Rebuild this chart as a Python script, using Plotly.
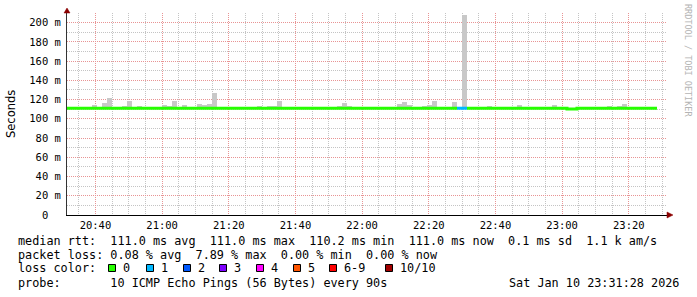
import plotly.graph_objects as go
import pandas as pd

# ---------------- data ----------------
START = "2026-01-10 20:31:28"
END = "2026-01-10 23:31:28"
STEP_S = 90

# median RTT per 90 s step (ms)
MEDIAN_MS = [
    111.0, 111.0, 111.0, 111.0, 111.0, 111.0, 111.0, 111.0, 111.0, 111.0,
    111.0, 111.0, 111.0, 111.0, 111.0, 111.0, 111.0, 111.0, 111.0, 111.0,
    111.0, 111.0, 111.0, 111.0, 111.0, 111.0, 111.0, 111.0, 111.0, 111.0,
    111.0, 111.0, 111.0, 111.0, 111.0, 111.0, 111.0, 111.0, 111.0, 111.0,
    111.0, 111.0, 111.0, 111.0, 111.0, 111.0, 111.0, 111.0, 111.0, 111.0,
    111.0, 111.0, 111.0, 111.0, 111.0, 111.0, 111.0, 111.0, 111.0, 111.0,
    111.0, 111.0, 111.0, 111.0, 111.0, 111.0, 111.0, 111.0, 111.0, 111.0,
    111.0, 111.0, 111.0, 111.0, 111.0, 111.0, 111.0, 111.0, 111.0, 111.0,
    111.0, 111.0, 111.0, 111.0, 111.0, 111.0, 111.0, 111.0, 111.0, 111.0,
    111.0, 111.0, 111.0, 111.0, 111.0, 111.0, 111.0, 111.0, 111.0, 111.0,
    110.2, 110.2, 111.0, 111.0, 111.0, 111.0, 111.0, 111.0, 111.0, 111.0,
    111.0, 111.0, 111.0, 111.0, 111.0, 111.0, 111.0, 111.0,
]

# top of the smoke (slowest ping) per step (ms)
MAX_MS = [
    111.0, 111.0, 111.0, 111.0, 111.0, 114.5, 111.0, 116.5, 122.0, 111.0,
    111.0, 113.5, 118.5, 111.0, 113.5, 111.0, 111.0, 111.0, 111.0, 114.5,
    113.5, 118.5, 111.0, 114.5, 111.0, 111.0, 115.5, 114.5, 115.5, 127.0,
    111.0, 111.0, 111.0, 111.0, 111.0, 111.0, 111.0, 111.0, 113.5, 111.0,
    113.5, 113.5, 118.5, 111.0, 111.0, 111.0, 111.0, 111.0, 111.0, 111.0,
    111.0, 111.0, 111.0, 111.0, 113.5, 116.5, 113.5, 111.0, 111.0, 111.0,
    111.0, 111.0, 111.0, 111.0, 111.0, 111.0, 115.5, 117.5, 114.5, 111.0,
    111.0, 113.5, 114.5, 118.5, 111.0, 111.0, 111.0, 117.5, 111.0, 208.0,
    111.0, 111.0, 111.0, 111.0, 113.5, 111.0, 111.0, 111.0, 111.0, 111.0,
    114.5, 111.0, 111.0, 111.0, 112.5, 112.5, 111.0, 114.5, 111.0, 111.0,
    110.2, 110.2, 111.0, 111.0, 111.0, 111.0, 111.0, 111.0, 113.5, 111.0,
    113.5, 115.5, 111.0, 111.0, 111.0, 111.0, 111.0, 111.0,
]

# lost pings (out of 10) per step
LOSS = [
    0, 0, 0, 0, 0, 0, 0, 0, 0, 0,
    0, 0, 0, 0, 0, 0, 0, 0, 0, 0,
    0, 0, 0, 0, 0, 0, 0, 0, 0, 0,
    0, 0, 0, 0, 0, 0, 0, 0, 0, 0,
    0, 0, 0, 0, 0, 0, 0, 0, 0, 0,
    0, 0, 0, 0, 0, 0, 0, 0, 0, 0,
    0, 0, 0, 0, 0, 0, 0, 0, 0, 0,
    0, 0, 0, 0, 0, 0, 0, 0, 1, 1,
    0, 0, 0, 0, 0, 0, 0, 0, 0, 0,
    0, 0, 0, 0, 0, 0, 0, 0, 0, 0,
    0, 0, 0, 0, 0, 0, 0, 0, 0, 0,
    0, 0, 0, 0, 0, 0, 0, 0,
]

LOSS_LABELS = ["0", "1", "2", "3", "4", "5", "6-9", "10/10"]
LOSS_COLORS = ["#26ff00", "#00b8ff", "#0059ff", "#7e00ff",
               "#ff00ff", "#ff5500", "#ff0000", "#a10000"]

Y_TICKVALS = [0, 20, 40, 60, 80, 100, 120, 140, 160, 180, 200]
Y_TICKTEXT = ["0\u00a0\u00a0", "20 m", "40 m", "60 m", "80 m", "100 m",
              "120 m", "140 m", "160 m", "180 m", "200 m"]

STAT_LINES = [
    "median rtt:  111.0 ms avg  111.0 ms max  110.2 ms min  111.0 ms now  0.1 ms sd  1.1 k am/s",
    "packet loss: 0.08 % avg  7.89 % max  0.00 % min  0.00 % now",
    "loss color:",
    "probe:       10 ICMP Echo Pings (56 Bytes) every 90s",
]
DATE_TEXT = "Sat Jan 10 23:31:28 2026"
Y_TITLE = "Seconds"
WATERMARK = "RRDTOOL / TOBI OETIKER"

# ---------------- layout constants ----------------
W, H = 697, 297
L, R, T, B = 67, 30, 13, 82
PW, PH = W - L - R, H - T - B
MONO = "DejaVu Sans Mono"


def px_x(px):
    return (px - L) / PW


def px_y(py):
    return (H - B - py) / PH


def loss_class(n):
    if n <= 5:
        return n
    if n < 10:
        return 6
    return 7


starts = pd.date_range(START, periods=len(MEDIAN_MS), freq=f"{STEP_S}s")
ends = starts + pd.Timedelta(seconds=STEP_S)
centers = starts + pd.Timedelta(seconds=STEP_S / 2)

fig = go.Figure()

# smoke bars (median -> max)
bx, bbase, bh = [], [], []
for c, m, mx in zip(centers, MEDIAN_MS, MAX_MS):
    if mx > m:
        bx.append(c)
        bbase.append(m)
        bh.append(mx - m)
fig.add_trace(go.Bar(
    x=bx, y=bh, base=bbase, width=STEP_S * 1000,
    marker=dict(color="#c8c8c8", line=dict(width=0)),
    hoverinfo="skip", showlegend=False,
))

# median line coloured by loss
classes = [loss_class(v) for v in LOSS]
n = len(classes)
for c in sorted(set(classes)):
    xs, ys = [], []
    i = 0
    while i < n:
        if classes[i] != c:
            i += 1
            continue
        j = i
        while j < n and classes[j] == c:
            xs.append(starts[j])
            ys.append(MEDIAN_MS[j])
            j += 1
        xs.append(ends[j - 1])
        ys.append(MEDIAN_MS[j - 1])
        xs.append(None)
        ys.append(None)
        i = j
    fig.add_trace(go.Scatter(
        x=xs, y=ys, mode="lines",
        line=dict(color=LOSS_COLORS[c], width=3, shape="hv"),
        hoverinfo="skip", showlegend=False, connectgaps=False,
    ))

MINOR_GRID = "#c4c4c4"
MAJOR_GRID = "#e89494"

fig.update_xaxes(
    type="date", range=[START, END],
    tickformat="%H:%M", tick0="2026-01-10 20:40:00", dtick=20 * 60 * 1000,
    showgrid=True, gridcolor=MAJOR_GRID, griddash="1px,1px", gridwidth=1,
    minor=dict(dtick=5 * 60 * 1000, tick0="2026-01-10 20:40:00",
               showgrid=True, gridcolor=MINOR_GRID, griddash="1px,1px", gridwidth=1),
    showline=True, linecolor="#000000", linewidth=1,
    ticks="", tickfont=dict(family=MONO, size=10.5, color="#000000"),
    zeroline=False, fixedrange=True,
)
fig.update_yaxes(
    range=[0, 210],
    tickmode="array", tickvals=Y_TICKVALS, ticktext=Y_TICKTEXT,
    showgrid=True, gridcolor=MAJOR_GRID, griddash="1px,1px", gridwidth=1,
    minor=dict(tickmode="linear", tick0=0, dtick=10,
               showgrid=True, gridcolor=MINOR_GRID, griddash="1px,1px", gridwidth=1),
    showline=True, linecolor="#333333", linewidth=1,
    ticks="", ticklabelstandoff=3,
    tickfont=dict(family=MONO, size=10.5, color="#000000"),
    zeroline=False, fixedrange=True,
)

annotations = []
shapes = []

# y-axis title
annotations.append(dict(
    text=Y_TITLE, xref="paper", yref="paper", x=px_x(11), y=px_y(114),
    xanchor="center", yanchor="middle", textangle=-90, showarrow=False,
    font=dict(family="DejaVu Sans", size=11.5, color="#000000"),
))
# watermark
annotations.append(dict(
    text=WATERMARK, xref="paper", yref="paper", x=px_x(688), y=px_y(60),
    xanchor="center", yanchor="middle", textangle=90, showarrow=False,
    font=dict(family=MONO, size=8.5, color="#b4b4b4"),
))

ROW_Y = [241, 255, 268, 283]
for text, ry in zip(STAT_LINES, ROW_Y):
    annotations.append(dict(
        text=text.replace(" ", "\u00a0"), xref="paper", yref="paper",
        x=px_x(16), y=px_y(ry), xanchor="left", yanchor="middle", showarrow=False,
        font=dict(family=MONO, size=11.8, color="#000000"),
    ))
annotations.append(dict(
    text=DATE_TEXT.replace(" ", "\u00a0"), xref="paper", yref="paper",
    x=px_x(681), y=px_y(ROW_Y[3]), xanchor="right", yanchor="middle", showarrow=False,
    font=dict(family=MONO, size=11.8, color="#000000"),
))

# loss colour legend
BOX_X = [108, 146, 183, 219, 256, 293, 329, 385]
for bxp, lab, col in zip(BOX_X, LOSS_LABELS, LOSS_COLORS):
    shapes.append(dict(
        type="rect", xref="paper", yref="paper",
        x0=px_x(bxp + 0.5), x1=px_x(bxp + 7.5), y0=px_y(ROW_Y[2] + 3.5), y1=px_y(ROW_Y[2] - 3.5),
        fillcolor=col, line=dict(color="#000000", width=1), layer="above",
    ))
    annotations.append(dict(
        text=lab, xref="paper", yref="paper", x=px_x(bxp + 13), y=px_y(ROW_Y[2]),
        xanchor="left", yanchor="middle", showarrow=False,
        font=dict(family=MONO, size=11.8, color="#000000"),
    ))

# axis arrows
ARROW = "#8b0000"
shapes.append(dict(
    type="path", xref="paper", yref="paper", layer="above",
    path=f"M {px_x(64)},{px_y(13)} L {px_x(70)},{px_y(13)} L {px_x(67)},{px_y(8)} Z",
    fillcolor=ARROW, line=dict(color=ARROW, width=0.5),
))
shapes.append(dict(
    type="path", xref="paper", yref="paper", layer="above",
    path=f"M {px_x(667)},{px_y(212)} L {px_x(667)},{px_y(218)} L {px_x(673)},{px_y(215)} Z",
    fillcolor=ARROW, line=dict(color=ARROW, width=0.5),
))

fig.update_layout(
    width=W, height=H,
    margin=dict(l=L, r=R, t=T, b=B, pad=0),
    paper_bgcolor="#ffffff", plot_bgcolor="#ffffff",
    bargap=0, showlegend=False,
    annotations=annotations, shapes=shapes,
    font=dict(family=MONO, color="#000000"),
)

fig.write_html("out.html")
